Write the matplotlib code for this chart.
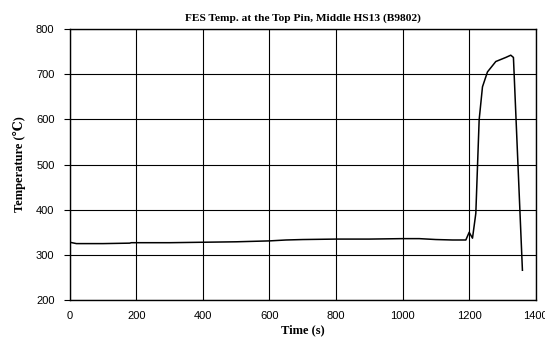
import matplotlib
matplotlib.use('Agg')
import matplotlib.pyplot as plt

# Temperature history
time_s = [0, 20, 100, 180, 185, 300, 400, 500, 600, 650, 700, 800, 900, 1000,
          1050, 1100, 1150, 1190, 1200, 1210, 1220, 1230, 1240, 1255, 1280,
          1310, 1325, 1333, 1360]
temp_c = [328, 325, 325, 326, 327, 327, 328, 329, 331, 333, 334, 335, 335, 336,
          336, 334, 333, 333, 350, 337, 392, 599, 672, 705, 728,
          737, 742, 737, 266]

xticks = [0, 200, 400, 600, 800, 1000, 1200, 1400]
yticks = [200, 300, 400, 500, 600, 700, 800]

fig = plt.figure(figsize=(5.45, 3.41), dpi=100)
ax = fig.add_axes([0.128, 0.12, 0.855, 0.795])

ax.plot(time_s, temp_c, color='black', linewidth=1.1)

ax.set_xlim(0, 1400)
ax.set_ylim(200, 800)
ax.set_xticks(xticks)
ax.set_yticks(yticks)
ax.grid(True, color='black', linewidth=0.8)
for s in ax.spines.values():
    s.set_linewidth(1.0)

ax.tick_params(axis='x', length=0, pad=8, labelsize=8)
ax.tick_params(axis='y', length=4, width=0.8, direction='out', pad=7, labelsize=8)
for lab in ax.get_xticklabels() + ax.get_yticklabels():
    lab.set_family('Liberation Sans')

serif = ['Liberation Serif', 'DejaVu Serif']
ax.set_title('FES Temp. at the Top Pin, Middle HS13 (B9802)', family=serif,
             fontweight='bold', fontsize=8.2, pad=6)
ax.set_xlabel('Time (s)', family=serif, fontweight='bold', fontsize=9, labelpad=2)
ax.set_ylabel('Temperature (\u2103)', family=serif, fontweight='bold', fontsize=9, labelpad=7)

fig.savefig('out.png', dpi=100)
